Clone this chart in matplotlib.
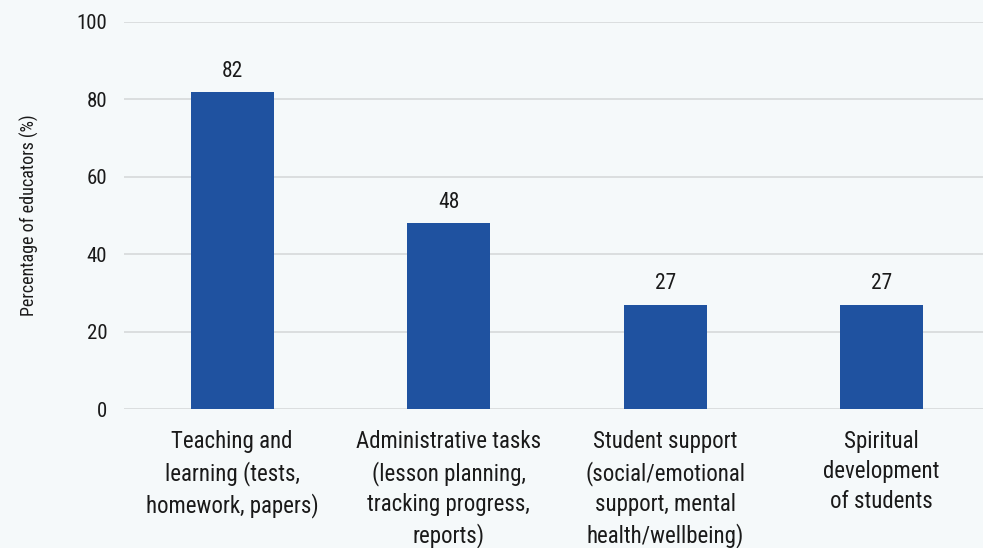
import matplotlib
matplotlib.use("Agg")
import matplotlib.pyplot as plt
from matplotlib import font_manager

categories = [
    "Teaching and\nlearning (tests,\nhomework, papers)",
    "Administrative tasks\n(lesson planning,\ntracking progress,\nreports)",
    "Student support\n(social/emotional\nsupport, mental\nhealth/wellbeing)",
    "Spiritual\ndevelopment\nof students",
]
values = [82, 48, 27, 27]
y_ticks = [0, 20, 40, 60, 80, 100]
y_label = "Percentage of educators (%)"

# pick a narrow sans family if one is installed
names = {f.name for f in font_manager.fontManager.ttflist}
preferred = ["Roboto Condensed", "Open Sans Condensed", "Liberation Sans Narrow"]
family = [n for n in preferred if n in names] + ["DejaVu Sans"]
plt.rcParams["font.family"] = family

bg = "#f5f9fa"
bar_color = "#1f52a0"
grid_color = "#d9dcdd"
text_color = "#1a1a1a"

fig = plt.figure(figsize=(9.83, 5.48), dpi=100, facecolor=bg)
ax = fig.add_axes([0.126, 0.2536, 0.874, 0.7063], facecolor=bg)

x = list(range(len(categories)))
ax.bar(x, values, width=0.383, color=bar_color, zorder=3)
for xi, v in zip(x, values):
    ax.text(xi, v + 2.6, f"{v}", ha="center", va="bottom", fontsize=15.5,
            color=text_color)

ax.set_xlim(-0.5, 3.468)
ax.set_ylim(0, 100)
ax.set_yticks(y_ticks)
ax.set_yticklabels([str(t) for t in y_ticks], fontsize=15, color=text_color)
ax.set_xticks(x)
ax.set_xticklabels(categories, fontsize=16.5, color=text_color, linespacing=1.4)
ax.tick_params(axis="both", length=0)
ax.tick_params(axis="y", pad=12)
ax.tick_params(axis="x", pad=15)
ax.grid(axis="y", color=grid_color, linewidth=1.3, zorder=0)
for s in ax.spines.values():
    s.set_visible(False)
ax.set_ylabel(y_label, fontsize=13, color=text_color, labelpad=27)

fig.savefig("out.png", dpi=100, facecolor=bg)
